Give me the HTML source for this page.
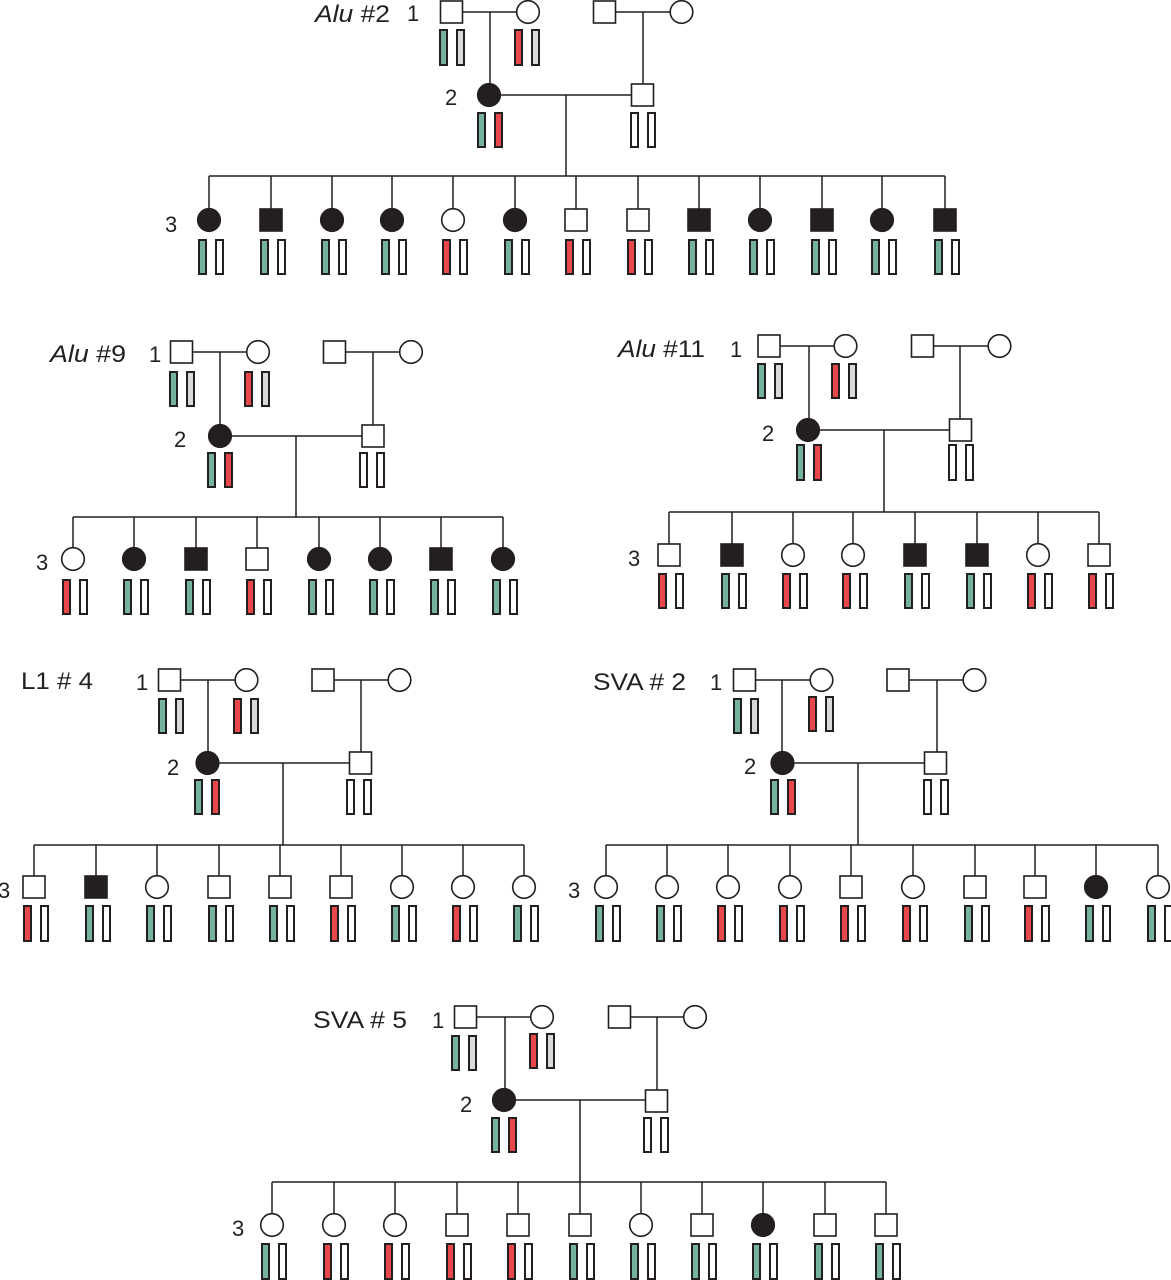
<!DOCTYPE html>
<html><head><meta charset="utf-8"><style>
html,body{margin:0;padding:0;background:#fff;}
svg{display:block}
.l{stroke:#231f20;stroke-width:1.5;fill:none}
.o{fill:#fff;stroke:#231f20;stroke-width:1.6}
.f{fill:#231f20;stroke:#231f20;stroke-width:1.6}
.g,.r,.y,.w{stroke:#231f20;stroke-width:2}
.g{fill:#76b39f}.r{fill:#e8474c}.y{fill:#dadada}.w{fill:#fff}
text{font-family:"Liberation Sans",sans-serif;fill:#231f20}
.t{font-size:24px}.n{font-size:22px}
</style></head><body>
<svg width="1171" height="1280" viewBox="0 0 1171 1280" xmlns="http://www.w3.org/2000/svg">

<!-- ===== Alu #2 ===== -->
<text class="t" x="315" y="22" textLength="75" lengthAdjust="spacingAndGlyphs"><tspan font-style="italic">Alu</tspan> #2</text>
<text class="n" x="407" y="21">1</text>
<text class="n" x="445" y="105">2</text>
<text class="n" x="165" y="232">3</text>
<path class="l" d="M451.5 12H528M490 12V95M604.5 12H681.5M643 12V95M489 95H642.5M566 95V176M209 176H945M209 176V220M271 176V220M332 176V220M392 176V220M453 176V220M515 176V220M576 176V220M638 176V220M699 176V220M760 176V220M822 176V220M882 176V220M945 176V220"/>
<rect class="o" x="440.5" y="1" width="22" height="22"/>
<circle class="o" cx="528" cy="12" r="11.3"/>
<rect class="o" x="593.5" y="1" width="22" height="22"/>
<circle class="o" cx="681.5" cy="12" r="11.3"/>
<circle class="f" cx="489" cy="95" r="11.3"/>
<rect class="o" x="631.5" y="84" width="22" height="22"/>
<rect class="g" x="440" y="30" width="7" height="35"/><rect class="y" x="457" y="30" width="7" height="35"/>
<rect class="r" x="515" y="30" width="7" height="35"/><rect class="y" x="532" y="30" width="7" height="35"/>
<rect class="g" x="478" y="113" width="7" height="34"/><rect class="r" x="495" y="113" width="7" height="34"/>
<rect class="w" x="631" y="113" width="7" height="34"/><rect class="w" x="648" y="113" width="7" height="34"/>
<circle class="f" cx="209" cy="220" r="11.3"/>
<rect class="f" x="260" y="209" width="22" height="22"/>
<circle class="f" cx="332" cy="220" r="11.3"/>
<circle class="f" cx="392" cy="220" r="11.3"/>
<circle class="o" cx="453" cy="220" r="11.3"/>
<circle class="f" cx="515" cy="220" r="11.3"/>
<rect class="o" x="565" y="209" width="22" height="22"/>
<rect class="o" x="627" y="209" width="22" height="22"/>
<rect class="f" x="688" y="209" width="22" height="22"/>
<circle class="f" cx="760" cy="220" r="11.3"/>
<rect class="f" x="811" y="209" width="22" height="22"/>
<circle class="f" cx="882" cy="220" r="11.3"/>
<rect class="f" x="934" y="209" width="22" height="22"/>
<rect class="g" x="199" y="240" width="7" height="34"/><rect class="w" x="216" y="240" width="7" height="34"/>
<rect class="g" x="261" y="240" width="7" height="34"/><rect class="w" x="278" y="240" width="7" height="34"/>
<rect class="g" x="322" y="240" width="7" height="34"/><rect class="w" x="339" y="240" width="7" height="34"/>
<rect class="g" x="382" y="240" width="7" height="34"/><rect class="w" x="399" y="240" width="7" height="34"/>
<rect class="r" x="443" y="240" width="7" height="34"/><rect class="w" x="460" y="240" width="7" height="34"/>
<rect class="g" x="505" y="240" width="7" height="34"/><rect class="w" x="522" y="240" width="7" height="34"/>
<rect class="r" x="566" y="240" width="7" height="34"/><rect class="w" x="583" y="240" width="7" height="34"/>
<rect class="r" x="628" y="240" width="7" height="34"/><rect class="w" x="645" y="240" width="7" height="34"/>
<rect class="g" x="689" y="240" width="7" height="34"/><rect class="w" x="706" y="240" width="7" height="34"/>
<rect class="g" x="750" y="240" width="7" height="34"/><rect class="w" x="767" y="240" width="7" height="34"/>
<rect class="g" x="812" y="240" width="7" height="34"/><rect class="w" x="829" y="240" width="7" height="34"/>
<rect class="g" x="872" y="240" width="7" height="34"/><rect class="w" x="889" y="240" width="7" height="34"/>
<rect class="g" x="935" y="240" width="7" height="34"/><rect class="w" x="952" y="240" width="7" height="34"/>

<!-- ===== Alu #9 ===== -->
<text class="t" x="50" y="362" textLength="76" lengthAdjust="spacingAndGlyphs"><tspan font-style="italic">Alu</tspan> #9</text>
<text class="n" x="149" y="362">1</text>
<text class="n" x="174" y="447">2</text>
<text class="n" x="36" y="570">3</text>
<path class="l" d="M181.5 352H258M220 352V436M334.5 352H411M373 352V436M220 436H373M296 436V517M73 517H503M73 517V559M134 517V559M196 517V559M257 517V559M319 517V559M380 517V559M441 517V559M503 517V559"/>
<rect class="o" x="170.5" y="341" width="22" height="22"/>
<circle class="o" cx="258" cy="352" r="11.3"/>
<rect class="o" x="323.5" y="341" width="22" height="22"/>
<circle class="o" cx="411" cy="352" r="11.3"/>
<circle class="f" cx="220" cy="436" r="11.3"/>
<rect class="o" x="362" y="425" width="22" height="22"/>
<rect class="g" x="170" y="372" width="7" height="34"/><rect class="y" x="187" y="372" width="7" height="34"/>
<rect class="r" x="245" y="372" width="7" height="34"/><rect class="y" x="262" y="372" width="7" height="34"/>
<rect class="g" x="208" y="453" width="7" height="34"/><rect class="r" x="225" y="453" width="7" height="34"/>
<rect class="w" x="360" y="453" width="7" height="34"/><rect class="w" x="377" y="453" width="7" height="34"/>
<circle class="o" cx="73" cy="559" r="11.3"/>
<circle class="f" cx="134" cy="559" r="11.3"/>
<rect class="f" x="185" y="548" width="22" height="22"/>
<rect class="o" x="246" y="548" width="22" height="22"/>
<circle class="f" cx="319" cy="559" r="11.3"/>
<circle class="f" cx="380" cy="559" r="11.3"/>
<rect class="f" x="430" y="548" width="22" height="22"/>
<circle class="f" cx="503" cy="559" r="11.3"/>
<rect class="r" x="63" y="580" width="7" height="34"/><rect class="w" x="80" y="580" width="7" height="34"/>
<rect class="g" x="124" y="580" width="7" height="34"/><rect class="w" x="141" y="580" width="7" height="34"/>
<rect class="g" x="186" y="580" width="7" height="34"/><rect class="w" x="203" y="580" width="7" height="34"/>
<rect class="r" x="247" y="580" width="7" height="34"/><rect class="w" x="264" y="580" width="7" height="34"/>
<rect class="g" x="309" y="580" width="7" height="34"/><rect class="w" x="326" y="580" width="7" height="34"/>
<rect class="g" x="370" y="580" width="7" height="34"/><rect class="w" x="387" y="580" width="7" height="34"/>
<rect class="g" x="431" y="580" width="7" height="34"/><rect class="w" x="448" y="580" width="7" height="34"/>
<rect class="g" x="493" y="580" width="7" height="34"/><rect class="w" x="510" y="580" width="7" height="34"/>

<!-- ===== Alu #11 ===== -->
<text class="t" x="618" y="357" textLength="87" lengthAdjust="spacingAndGlyphs"><tspan font-style="italic">Alu</tspan> #11</text>
<text class="n" x="730" y="357">1</text>
<text class="n" x="762" y="441">2</text>
<text class="n" x="628" y="566">3</text>
<path class="l" d="M769 346H845.5M809 346V430M922.5 346H999.5M960 346V430M808 430H960.5M884 430V512M669 512H1099M669 512V555M732 512V555M793 512V555M853 512V555M915 512V555M977 512V555M1038 512V555M1099 512V555"/>
<rect class="o" x="758" y="335" width="22" height="22"/>
<circle class="o" cx="845.5" cy="346" r="11.3"/>
<rect class="o" x="911.5" y="335" width="22" height="22"/>
<circle class="o" cx="999.5" cy="346" r="11.3"/>
<circle class="f" cx="808" cy="430" r="11.3"/>
<rect class="o" x="949.5" y="419" width="22" height="22"/>
<rect class="g" x="758" y="364" width="7" height="34"/><rect class="y" x="775" y="364" width="7" height="34"/>
<rect class="r" x="832" y="364" width="7" height="34"/><rect class="y" x="849" y="364" width="7" height="34"/>
<rect class="g" x="797" y="445" width="7" height="35"/><rect class="r" x="814" y="445" width="7" height="35"/>
<rect class="w" x="949" y="445" width="7" height="35"/><rect class="w" x="966" y="445" width="7" height="35"/>
<rect class="o" x="658" y="544" width="22" height="22"/>
<rect class="f" x="721" y="544" width="22" height="22"/>
<circle class="o" cx="793" cy="555" r="11.3"/>
<circle class="o" cx="853" cy="555" r="11.3"/>
<rect class="f" x="904" y="544" width="22" height="22"/>
<rect class="f" x="966" y="544" width="22" height="22"/>
<circle class="o" cx="1038" cy="555" r="11.3"/>
<rect class="o" x="1088" y="544" width="22" height="22"/>
<rect class="r" x="659" y="574" width="7" height="34"/><rect class="w" x="676" y="574" width="7" height="34"/>
<rect class="g" x="722" y="574" width="7" height="34"/><rect class="w" x="739" y="574" width="7" height="34"/>
<rect class="r" x="783" y="574" width="7" height="34"/><rect class="w" x="800" y="574" width="7" height="34"/>
<rect class="r" x="843" y="574" width="7" height="34"/><rect class="w" x="860" y="574" width="7" height="34"/>
<rect class="g" x="905" y="574" width="7" height="34"/><rect class="w" x="922" y="574" width="7" height="34"/>
<rect class="g" x="967" y="574" width="7" height="34"/><rect class="w" x="984" y="574" width="7" height="34"/>
<rect class="r" x="1028" y="574" width="7" height="34"/><rect class="w" x="1045" y="574" width="7" height="34"/>
<rect class="r" x="1089" y="574" width="7" height="34"/><rect class="w" x="1106" y="574" width="7" height="34"/>

<!-- ===== L1 # 4 ===== -->
<text class="t" x="21" y="689" textLength="72" lengthAdjust="spacingAndGlyphs">L1 # 4</text>
<text class="n" x="136" y="690">1</text>
<text class="n" x="167" y="775">2</text>
<text class="n" x="-2" y="898">3</text>
<path class="l" d="M169.5 680H246.5M208 680V763M323 680H399.5M361 680V763M207.5 763H360.5M283 763V845M34 845H524M34 845V887M96 845V887M157 845V887M219 845V887M280 845V887M341 845V887M402 845V887M463 845V887M524 845V887"/>
<rect class="o" x="158.5" y="669" width="22" height="22"/>
<circle class="o" cx="246.5" cy="680" r="11.3"/>
<rect class="o" x="312" y="669" width="22" height="22"/>
<circle class="o" cx="399.5" cy="680" r="11.3"/>
<circle class="f" cx="207.5" cy="763" r="11.3"/>
<rect class="o" x="349.5" y="752" width="22" height="22"/>
<rect class="g" x="159" y="699" width="7" height="34"/><rect class="y" x="176" y="699" width="7" height="34"/>
<rect class="r" x="234" y="699" width="7" height="34"/><rect class="y" x="251" y="699" width="7" height="34"/>
<rect class="g" x="195" y="780" width="7" height="34"/><rect class="r" x="212" y="780" width="7" height="34"/>
<rect class="w" x="347" y="780" width="7" height="34"/><rect class="w" x="364" y="780" width="7" height="34"/>
<rect class="o" x="23" y="876" width="22" height="22"/>
<rect class="f" x="85" y="876" width="22" height="22"/>
<circle class="o" cx="157" cy="887" r="11.3"/>
<rect class="o" x="208" y="876" width="22" height="22"/>
<rect class="o" x="269" y="876" width="22" height="22"/>
<rect class="o" x="330" y="876" width="22" height="22"/>
<circle class="o" cx="402" cy="887" r="11.3"/>
<circle class="o" cx="463" cy="887" r="11.3"/>
<circle class="o" cx="524" cy="887" r="11.3"/>
<rect class="r" x="24" y="906" width="7" height="35"/><rect class="w" x="41" y="906" width="7" height="35"/>
<rect class="g" x="86" y="906" width="7" height="35"/><rect class="w" x="103" y="906" width="7" height="35"/>
<rect class="g" x="147" y="906" width="7" height="35"/><rect class="w" x="164" y="906" width="7" height="35"/>
<rect class="g" x="209" y="906" width="7" height="35"/><rect class="w" x="226" y="906" width="7" height="35"/>
<rect class="g" x="270" y="906" width="7" height="35"/><rect class="w" x="287" y="906" width="7" height="35"/>
<rect class="r" x="331" y="906" width="7" height="35"/><rect class="w" x="348" y="906" width="7" height="35"/>
<rect class="g" x="392" y="906" width="7" height="35"/><rect class="w" x="409" y="906" width="7" height="35"/>
<rect class="r" x="453" y="906" width="7" height="35"/><rect class="w" x="470" y="906" width="7" height="35"/>
<rect class="g" x="514" y="906" width="7" height="35"/><rect class="w" x="531" y="906" width="7" height="35"/>

<!-- ===== SVA # 2 ===== -->
<text class="t" x="593" y="690" textLength="93" lengthAdjust="spacingAndGlyphs">SVA # 2</text>
<text class="n" x="710" y="690">1</text>
<text class="n" x="744" y="774">2</text>
<text class="n" x="568" y="898">3</text>
<path class="l" d="M744.5 680H821.5M782 680V763M898 680H974.5M937 680V763M782.5 763H935.5M858 763V845M606 845H1158M606 845V887M667 845V887M728 845V887M790 845V887M851 845V887M913 845V887M975 845V887M1035 845V887M1096 845V887M1158 845V887"/>
<rect class="o" x="733.5" y="669" width="22" height="22"/>
<circle class="o" cx="821.5" cy="680" r="11.3"/>
<rect class="o" x="887" y="669" width="22" height="22"/>
<circle class="o" cx="974.5" cy="680" r="11.3"/>
<circle class="f" cx="782.5" cy="763" r="11.3"/>
<rect class="o" x="924.5" y="752" width="22" height="22"/>
<rect class="g" x="734" y="699" width="7" height="34"/><rect class="y" x="751" y="699" width="7" height="34"/>
<rect class="r" x="809" y="697" width="7" height="34"/><rect class="y" x="826" y="697" width="7" height="34"/>
<rect class="g" x="771" y="780" width="7" height="34"/><rect class="r" x="788" y="780" width="7" height="34"/>
<rect class="w" x="924" y="780" width="7" height="34"/><rect class="w" x="941" y="780" width="7" height="34"/>
<circle class="o" cx="606" cy="887" r="11.3"/>
<circle class="o" cx="667" cy="887" r="11.3"/>
<circle class="o" cx="728" cy="887" r="11.3"/>
<circle class="o" cx="790" cy="887" r="11.3"/>
<rect class="o" x="840" y="876" width="22" height="22"/>
<circle class="o" cx="913" cy="887" r="11.3"/>
<rect class="o" x="964" y="876" width="22" height="22"/>
<rect class="o" x="1024" y="876" width="22" height="22"/>
<circle class="f" cx="1096" cy="887" r="11.3"/>
<circle class="o" cx="1158" cy="887" r="11.3"/>
<rect class="g" x="596" y="906" width="7" height="35"/><rect class="w" x="613" y="906" width="7" height="35"/>
<rect class="g" x="657" y="906" width="7" height="35"/><rect class="w" x="674" y="906" width="7" height="35"/>
<rect class="r" x="718" y="906" width="7" height="35"/><rect class="w" x="735" y="906" width="7" height="35"/>
<rect class="r" x="780" y="906" width="7" height="35"/><rect class="w" x="797" y="906" width="7" height="35"/>
<rect class="r" x="841" y="906" width="7" height="35"/><rect class="w" x="858" y="906" width="7" height="35"/>
<rect class="r" x="903" y="906" width="7" height="35"/><rect class="w" x="920" y="906" width="7" height="35"/>
<rect class="g" x="965" y="906" width="7" height="35"/><rect class="w" x="982" y="906" width="7" height="35"/>
<rect class="r" x="1025" y="906" width="7" height="35"/><rect class="w" x="1042" y="906" width="7" height="35"/>
<rect class="g" x="1086" y="906" width="7" height="35"/><rect class="w" x="1103" y="906" width="7" height="35"/>
<rect class="g" x="1148" y="906" width="7" height="35"/><rect class="w" x="1165" y="906" width="7" height="35"/>

<!-- ===== SVA # 5 ===== -->
<text class="t" x="313" y="1028" textLength="94" lengthAdjust="spacingAndGlyphs">SVA # 5</text>
<text class="n" x="432" y="1028">1</text>
<text class="n" x="460" y="1112">2</text>
<text class="n" x="232" y="1236">3</text>
<path class="l" d="M465.5 1017H542M505 1017V1100M619.5 1017H695M657 1017V1101M504 1100H656.5M580 1100V1182M272 1182H886M272 1182V1225M334 1182V1225M395 1182V1225M457 1182V1225M518 1182V1225M580 1182V1225M641 1182V1225M702 1182V1225M763 1182V1225M825 1182V1225M886 1182V1225"/>
<rect class="o" x="454.5" y="1006" width="22" height="22"/>
<circle class="o" cx="542" cy="1017" r="11.3"/>
<rect class="o" x="608.5" y="1006" width="22" height="22"/>
<circle class="o" cx="695" cy="1017" r="11.3"/>
<circle class="f" cx="504" cy="1100" r="11.3"/>
<rect class="o" x="645.5" y="1090" width="22" height="22"/>
<rect class="g" x="452" y="1036" width="7" height="34"/><rect class="y" x="469" y="1036" width="7" height="34"/>
<rect class="r" x="530" y="1034" width="7" height="34"/><rect class="y" x="547" y="1034" width="7" height="34"/>
<rect class="g" x="492" y="1118" width="7" height="34"/><rect class="r" x="509" y="1118" width="7" height="34"/>
<rect class="w" x="644" y="1118" width="7" height="34"/><rect class="w" x="661" y="1118" width="7" height="34"/>
<circle class="o" cx="272" cy="1225" r="11.3"/>
<circle class="o" cx="334" cy="1225" r="11.3"/>
<circle class="o" cx="395" cy="1225" r="11.3"/>
<rect class="o" x="446" y="1214" width="22" height="22"/>
<rect class="o" x="507" y="1214" width="22" height="22"/>
<rect class="o" x="569" y="1214" width="22" height="22"/>
<circle class="o" cx="641" cy="1225" r="11.3"/>
<rect class="o" x="691" y="1214" width="22" height="22"/>
<circle class="f" cx="763" cy="1225" r="11.3"/>
<rect class="o" x="814" y="1214" width="22" height="22"/>
<rect class="o" x="875" y="1214" width="22" height="22"/>
<rect class="g" x="262" y="1244" width="7" height="35"/><rect class="w" x="279" y="1244" width="7" height="35"/>
<rect class="r" x="324" y="1244" width="7" height="35"/><rect class="w" x="341" y="1244" width="7" height="35"/>
<rect class="r" x="385" y="1244" width="7" height="35"/><rect class="w" x="402" y="1244" width="7" height="35"/>
<rect class="r" x="447" y="1244" width="7" height="35"/><rect class="w" x="464" y="1244" width="7" height="35"/>
<rect class="r" x="508" y="1244" width="7" height="35"/><rect class="w" x="525" y="1244" width="7" height="35"/>
<rect class="g" x="570" y="1244" width="7" height="35"/><rect class="w" x="587" y="1244" width="7" height="35"/>
<rect class="g" x="631" y="1244" width="7" height="35"/><rect class="w" x="648" y="1244" width="7" height="35"/>
<rect class="g" x="692" y="1244" width="7" height="35"/><rect class="w" x="709" y="1244" width="7" height="35"/>
<rect class="g" x="753" y="1244" width="7" height="35"/><rect class="w" x="770" y="1244" width="7" height="35"/>
<rect class="g" x="815" y="1244" width="7" height="35"/><rect class="w" x="832" y="1244" width="7" height="35"/>
<rect class="g" x="876" y="1244" width="7" height="35"/><rect class="w" x="893" y="1244" width="7" height="35"/>

</svg>
</body></html>
